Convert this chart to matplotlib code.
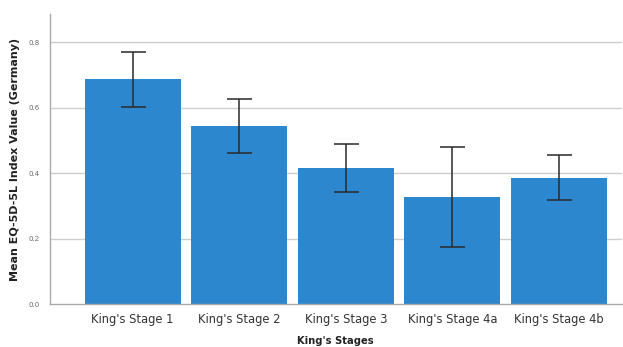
import matplotlib
matplotlib.use("Agg")
import matplotlib.pyplot as plt
import numpy as np

categories = ["King's Stage 1", "King's Stage 2", "King's Stage 3", "King's Stage 4a", "King's Stage 4b"]
means = [0.688, 0.545, 0.416, 0.328, 0.387]
ci_low = [0.604, 0.464, 0.344, 0.176, 0.319]
ci_high = [0.772, 0.627, 0.489, 0.480, 0.456]
yticks = [0.0, 0.2, 0.4, 0.6, 0.8]

fig = plt.figure(figsize=(6.23, 3.47), dpi=100)
ax = fig.add_axes([0.0795, 0.1225, 0.9185, 0.8372])

x = np.arange(len(categories))
m = np.array(means)
err = np.vstack([m - np.array(ci_low), np.array(ci_high) - m])

ax.set_axisbelow(True)
for t in yticks[1:]:
    ax.axhline(t, color='#cfcfcf', lw=1.0, zorder=0)

ax.bar(x, means, width=0.9, color='#2d87cf', zorder=2)
ax.errorbar(x, means, yerr=err, fmt='none', ecolor='#2a2a2a', elinewidth=1.1,
            capsize=9, capthick=1.1, zorder=3)

ax.set_xlim(-0.78, 4.59)
ax.set_ylim(0, 0.887)
ax.set_yticks(yticks)
ax.set_yticklabels([f"{t:.1f}" for t in yticks], fontsize=5, color='#666666')
ax.set_xticks(x)
ax.set_xticklabels(categories, fontsize=8.3, color='#333333')
ax.tick_params(axis='x', length=0, pad=6)
ax.tick_params(axis='y', length=0, pad=7)

for s in ['top', 'right']:
    ax.spines[s].set_visible(False)
ax.spines['left'].set_color('#aaaaaa')
ax.spines['bottom'].set_color('#aaaaaa')
ax.spines['left'].set_linewidth(1.0)
ax.spines['bottom'].set_linewidth(1.0)

ax.set_xlabel("King's Stages", fontsize=7.2, fontweight='bold', color='#222222', labelpad=7)
ax.set_ylabel("Mean EQ-5D-5L Index Value (Germany)", fontsize=8, fontweight='bold',
              color='#222222', labelpad=6)

fig.savefig("out.png", dpi=100)
